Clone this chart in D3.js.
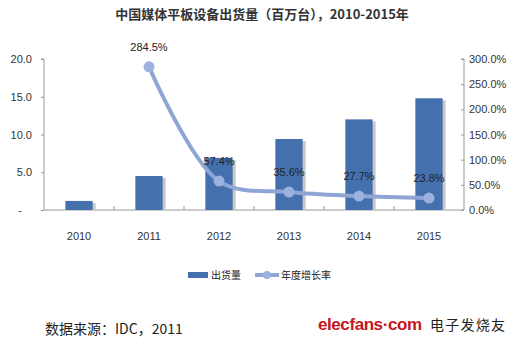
<!DOCTYPE html>
<html><head><meta charset="utf-8">
<script src="https://cdn.jsdelivr.net/npm/d3@7"></script>
<style>body{margin:0;background:#fff}svg{display:block}</style>
</head><body>
<svg id="c" width="522" height="345"></svg>
<script>
const years = ["2010","2011","2012","2013","2014","2015"];
const shipments = [1.2, 4.5, 6.9, 9.4, 12.0, 14.8];
const growthYears = ["2011","2012","2013","2014","2015"];
const growth = [284.5, 57.4, 35.6, 27.7, 23.8];
const leftTicks = [0, 5, 10, 15, 20];
const rightTicks = [0, 50, 100, 150, 200, 250, 300];
const title = "中国媒体平板设备出货量（百万台），2010-2015年";
const seriesNames = ["出货量", "年度增长率"];
const sourceText = "数据来源：IDC，2011";

(function () {
const svg = d3.select("#c");
const font = "Arial, 'Liberation Sans', 'Noto Sans CJK SC', sans-serif";
const pL = 44, pR = 464, pT = 59, pB = 210;
const barColor = "#4570AE", lineColor = "#8EA5D6";

const x = d3.scaleBand().domain(years).range([pL, pR]).paddingInner(0.61).paddingOuter(0.305);
const xc = d3.scalePoint().domain(years).range([pL + 35, pR - 35]);
const yL = d3.scaleLinear().domain([0, 20]).range([pB, pT]);
const yR = d3.scaleLinear().domain([0, 300]).range([pB, pT]);

// title
svg.append("text").attr("x", 262).attr("y", 19).attr("text-anchor", "middle")
  .attr("font-family", "'Noto Sans CJK SC', sans-serif").attr("font-weight", "bold")
  .attr("font-size", 13).attr("fill", "#333").text(title);

// left axis
const ga = svg.append("g").attr("transform", `translate(${pL},0)`)
  .call(d3.axisLeft(yL).tickValues(leftTicks).tickSize(3).tickPadding(9)
    .tickFormat(d => d === 0 ? "-" : d3.format(".1f")(d)));
ga.selectAll("path").attr("stroke", "#999").attr("d", `M-3,${pT}H0V${pB}`);
ga.selectAll("line").attr("stroke", "#999");
ga.selectAll("text").attr("font-family", font).attr("font-size", 11).attr("fill", "#333");
ga.selectAll(".tick").filter(d => d === 0).select("text").attr("dx", -10);

// right axis
const gr = svg.append("g").attr("transform", `translate(${pR},0)`)
  .call(d3.axisRight(yR).tickValues(rightTicks).tickSize(-3).tickPadding(5)
    .tickFormat(d => d3.format(".1f")(d) + "%"));
gr.selectAll("path").attr("stroke", "#999").attr("d", `M-3,${pT}H0V${pB}`);
gr.selectAll("line").attr("stroke", "#999");
gr.selectAll("text").attr("font-family", font).attr("font-size", 11).attr("fill", "#333");

// x axis
const gx = svg.append("g").attr("transform", `translate(0,${pB})`)
  .call(d3.axisBottom(x).tickSize(0).tickPadding(22));
gx.select("path").attr("stroke", "#999").attr("d", `M${pL},0H${pR}`);
gx.selectAll("text").attr("font-family", font).attr("font-size", 11).attr("fill", "#333");
// boundary ticks
svg.append("g").selectAll("line").data(years.slice(1)).join("line")
  .attr("x1", d => x(d) - x.step() * 0.305).attr("x2", d => x(d) - x.step() * 0.305)
  .attr("y1", pB - 4).attr("y2", pB).attr("stroke", "#999");

// bar shadows
svg.append("g").selectAll("rect").data(years).join("rect")
  .attr("x", d => x(d) + 3).attr("width", x.bandwidth())
  .attr("y", (d, i) => yL(shipments[i]) + 2).attr("height", (d, i) => pB - yL(shipments[i]) - 2)
  .attr("fill", "#c8c8c8");
// bars
svg.append("g").selectAll("rect").data(years).join("rect")
  .attr("x", d => x(d)).attr("width", x.bandwidth())
  .attr("y", (d, i) => yL(shipments[i])).attr("height", (d, i) => pB - yL(shipments[i]))
  .attr("fill", barColor);

// growth line
const pts = growthYears.map((d, i) => [xc(d), yR(growth[i])]);
svg.append("path").attr("d", d3.line().curve(d3.curveCatmullRom.alpha(0.5))(pts))
  .attr("fill", "none").attr("stroke", lineColor).attr("stroke-width", 4).attr("stroke-linecap", "round");
svg.append("g").selectAll("circle").data(growthYears).join("circle")
  .attr("cx", d => xc(d)).attr("cy", (d, i) => yR(growth[i])).attr("r", 5.5)
  .attr("fill", "#9BB1DE");
svg.append("g").selectAll("text").data(growthYears).join("text")
  .attr("x", d => xc(d)).attr("y", (d, i) => yR(growth[i]) - 16)
  .attr("text-anchor", "middle").attr("font-family", font).attr("font-size", 11).attr("fill", "#222")
  .text((d, i) => d3.format(".1f")(growth[i]) + "%");

// legend
const lg = svg.append("g").attr("transform", "translate(188,275)");
lg.append("rect").attr("x", 0).attr("y", -3).attr("width", 20).attr("height", 6).attr("fill", barColor);
lg.append("text").attr("x", 23).attr("y", 4).attr("font-family", "'Noto Sans CJK SC', sans-serif")
  .attr("font-size", 10).attr("fill", "#222").text(seriesNames[0]);
lg.append("line").attr("x1", 67).attr("x2", 91).attr("y1", 0).attr("y2", 0)
  .attr("stroke", lineColor).attr("stroke-width", 4);
lg.append("circle").attr("cx", 79).attr("cy", 0).attr("r", 4).attr("fill", "#9BB1DE");
lg.append("text").attr("x", 93).attr("y", 4).attr("font-family", "'Noto Sans CJK SC', sans-serif")
  .attr("font-size", 10).attr("fill", "#222").text(seriesNames[1]);

// source
svg.append("text").attr("x", 45).attr("y", 334).attr("font-family", "'Noto Sans CJK SC', sans-serif")
  .attr("font-size", 14).attr("fill", "#222").text(sourceText);

// watermark logo
svg.append("text").attr("x", 318).attr("y", 330).attr("font-family", "Arial, sans-serif")
  .attr("font-weight", "bold").attr("font-size", 17).attr("fill", "#c4161c").attr("textLength", 104)
  .text("elecfans·com");
svg.append("text").attr("x", 430).attr("y", 330).attr("font-family", "'Noto Sans CJK SC', sans-serif")
  .attr("font-size", 14).attr("fill", "#222").attr("textLength", 75).text("电子发烧友");
})();
</script>
</body></html>
